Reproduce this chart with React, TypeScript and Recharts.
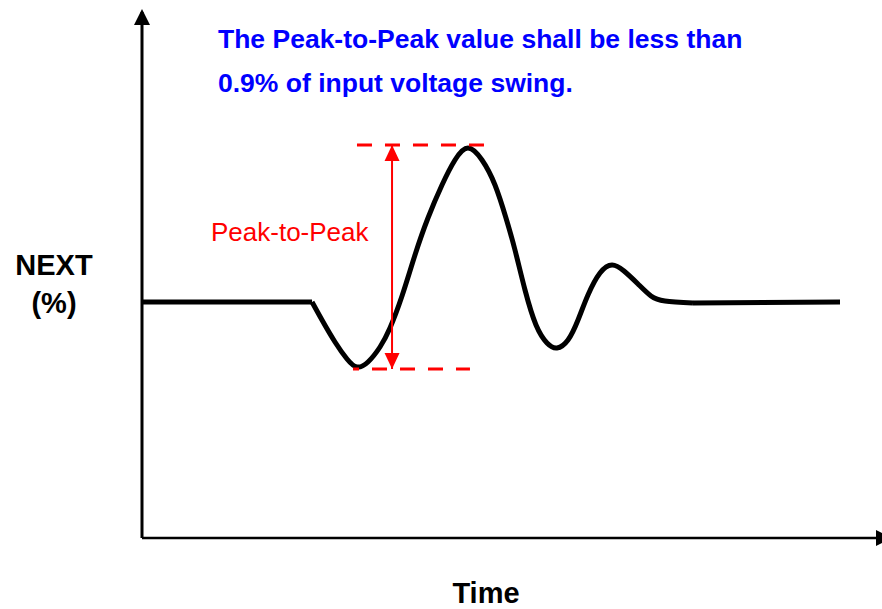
import React from 'react';
import { LineChart, Line, XAxis, YAxis, ReferenceLine, ReferenceDot, Customized } from 'recharts';

// time axis runs 0..100, NEXT axis in % (baseline at 0)
const flatTime = [0, 23.04, 74.66, 94.58];
const flatValues = [0, 0, -0.01, 0];

const waveTime = [
  23.04, 24.39, 26.15, 27.78, 29.13, 30.62, 32.25, 33.6, 35.23, 36.99, 38.75, 40.65, 42.41,
  44.17, 46.07, 47.83, 49.32, 50.54, 51.9, 53.39, 54.88, 56.23, 57.72, 59.08, 60.43,
  62.06, 63.69, 65.31, 67.21, 68.97, 70.87, 74.66,
];
const waveValues = [
  0, -0.18, -0.4, -0.57, -0.65, -0.6, -0.45, -0.26, 0.06, 0.47, 0.84, 1.17, 1.42,
  1.54, 1.42, 1.17, 0.84, 0.52, 0.12, -0.23, -0.41, -0.46, -0.38, -0.18, 0.07,
  0.29, 0.37, 0.31, 0.18, 0.06, 0.01, -0.01,
];

const xDomain: [number, number] = [0, 100];
const yDomain: [number, number] = [-2.36, 2.9];

const peakLevel = 1.57;
const troughLevel = -0.67;
const peakLineSpan = [29.13, 46.48];
const troughLineSpan = [28.59, 44.44];
const arrowX = 33.88;

const titleLines = ['The Peak-to-Peak value shall be less than', '0.9% of input voltage swing.'];
const annotation = 'Peak-to-Peak';
const yLabel = ['NEXT', '(%)'];
const xLabel = 'Time';

// merge both series onto one time table (null where a series has no point)
const allTimes = Array.from(new Set([...flatTime, ...waveTime])).sort((a, b) => a - b);
const data = allTimes.map((t) => {
  const fi = flatTime.indexOf(t);
  const wi = waveTime.indexOf(t);
  return {
    t,
    flat: fi >= 0 ? flatValues[fi] : null,
    wave: wi >= 0 ? waveValues[wi] : null,
  };
});

const FONT = "'Liberation Sans', Arial, Helvetica, sans-serif";
const RED = '#FF0000';

const UpArrow = (color: string, half: number, len: number, lead = 0) => (props: any) => {
  const { cx, cy } = props;
  const tip = cy - lead;
  return <polygon points={`${cx},${tip} ${cx - half},${tip + len} ${cx + half},${tip + len}`} fill={color} />;
};

const DownArrow = (color: string, half: number, len: number) => (props: any) => {
  const { cx, cy } = props;
  return <polygon points={`${cx},${cy} ${cx - half},${cy - len} ${cx + half},${cy - len}`} fill={color} />;
};

const RightArrow = (props: any) => {
  const { cx, cy } = props;
  return <polygon points={`${cx - 4},${cy - 8} ${cx + 12},${cy} ${cx - 4},${cy + 8}`} fill="#000" />;
};

// Static text annotations
const Texts = () => (
  <g fontFamily={FONT}>
    {titleLines.map((line, i) => (
      <text key={i} x={218} y={48 + i * 44} fontSize={26.5} fontWeight="bold" fill="#0000FF">
        {line}
      </text>
    ))}
    <text x={211} y={241} fontSize={26} fill={RED}>
      {annotation}
    </text>
    <text x={54} y={275} fontSize={29} fontWeight="bold" textAnchor="middle" fill="#000">
      {yLabel[0]}
    </text>
    <text x={54} y={313} fontSize={29} fontWeight="bold" textAnchor="middle" fill="#000">
      {yLabel[1]}
    </text>
    <text x={486} y={603} fontSize={29} fontWeight="bold" textAnchor="middle" fill="#000">
      {xLabel}
    </text>
  </g>
);

export default function App() {
  return (
    <div style={{ position: 'absolute', left: 0, top: 0, width: 882, height: 609, background: '#fff' }}>
      <LineChart width={882} height={609} data={data} margin={{ top: 12, right: 2, bottom: 71, left: 142 }}>
        <XAxis dataKey="t" type="number" domain={xDomain} allowDataOverflow hide />
        <YAxis type="number" domain={yDomain} allowDataOverflow hide />
        {/* axes drawn as lines with arrow heads */}
        <ReferenceLine
          segment={[{ x: xDomain[0], y: yDomain[0] }, { x: xDomain[0], y: yDomain[1] }]}
          stroke="#000"
          strokeWidth={3}
        />
        <ReferenceLine
          segment={[{ x: xDomain[0], y: yDomain[0] }, { x: xDomain[1], y: yDomain[0] }]}
          stroke="#000"
          strokeWidth={2.5}
        />
        <Line
          dataKey="flat"
          type="linear"
          stroke="#000"
          strokeWidth={5}
          dot={false}
          isAnimationActive={false}
        />
        <Line
          dataKey="wave"
          type="natural"
          stroke="#000"
          strokeWidth={5}
          dot={false}
          connectNulls
          isAnimationActive={false}
        />
        <ReferenceLine
          segment={[{ x: peakLineSpan[0], y: peakLevel }, { x: peakLineSpan[1], y: peakLevel }]}
          stroke={RED}
          strokeWidth={3}
          strokeDasharray="15 13"
        />
        <ReferenceLine
          segment={[{ x: troughLineSpan[0], y: troughLevel }, { x: troughLineSpan[1], y: troughLevel }]}
          stroke={RED}
          strokeWidth={3}
          strokeDasharray="15 13"
          strokeDashoffset={9}
        />
        <ReferenceLine
          segment={[{ x: arrowX, y: peakLevel }, { x: arrowX, y: troughLevel }]}
          stroke={RED}
          strokeWidth={2}
        />
        <ReferenceDot x={arrowX} y={peakLevel} r={8} shape={UpArrow(RED, 7.5, 16)} />
        <ReferenceDot x={arrowX} y={troughLevel} r={8} shape={DownArrow(RED, 7.5, 16)} />
        <ReferenceDot x={xDomain[0]} y={yDomain[1]} r={8} shape={UpArrow('#000', 8, 16, 3)} />
        <ReferenceDot x={xDomain[1]} y={yDomain[0]} r={8} shape={RightArrow} />
        <Customized component={Texts} />
      </LineChart>
    </div>
  );
}
